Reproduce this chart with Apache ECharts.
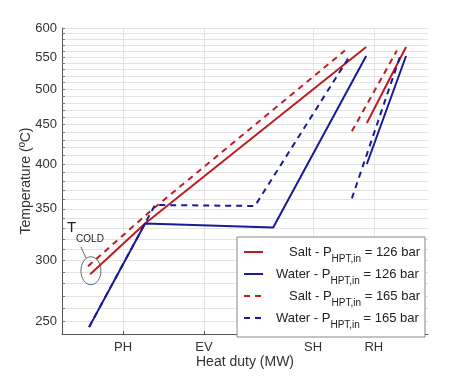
<!DOCTYPE html>
<html>
<head>
<meta charset="utf-8">
<script src="https://cdn.jsdelivr.net/npm/echarts@6/dist/echarts.min.js"></script>
<style>
html, body { margin: 0; padding: 0; background: #fff; }
#chart { width: 474px; height: 376px; }
</style>
</head>
<body>
<div id="chart"></div>
<script>
// heat duty in arbitrary units (0-100), temperatures in ºC
const saltLowX = [7.7, 22.7, 83.1];
const saltLowT = [288, 335, 567];
const saltLowRhX = [83.3, 94.0];
const saltLowRhT = [452, 567];

const waterLowX = [7.4, 22.7, 57.7, 83.1];
const waterLowT = [246, 335, 331, 552];
const waterLowRhX = [83.3, 94.0];
const waterLowRhT = [400, 552];

const saltHighX = [7.1, 24.9, 77.3];
const saltHighT = [295, 350, 561];
const saltHighRhX = [79.2, 91.5];
const saltHighRhT = [441, 561];

const waterHighX = [7.4, 25.4, 52.7, 78.4];
const waterHighT = [246, 354, 353, 550];
const waterHighRhX = [79.2, 92.3];
const waterHighRhT = [361, 550];

// axis ticks
const dutyTicks = [16.7, 38.8, 68.6, 85.2];
const dutyLabels = ['PH', 'EV', 'SH', 'RH'];
const tempLabels = [250, 300, 350, 400, 450, 500, 550, 600];
const tempGrid = [250, 260, 270, 280, 290, 300, 310, 320, 330, 340, 350, 360, 370, 380, 390,
  400, 410, 420, 430, 440, 450, 460, 470, 480, 490, 500, 510, 520, 530, 540, 550, 560, 570, 580, 590, 600];

const fluids = ['Salt', 'Water', 'Salt', 'Water'];
const pressures = [126, 126, 165, 165];

const red = '#c01c20';
const blue = '#1a1a96';
const font = 'Liberation Sans, Arial, sans-serif';

// join main part and RH part with a gap
function makeLine(x, t, rhX, rhT) {
  const pts = x.map((v, i) => [v, Math.log10(t[i])]);
  pts.push(['-', '-']);
  rhX.forEach((v, i) => pts.push([v, Math.log10(rhT[i])]));
  return pts;
}

const names = fluids.map((f, i) => f + ' - P HPT,in = ' + pressures[i] + ' bar');

function lineSeries(i, data, color, dashed) {
  return {
    name: names[i],
    type: 'line',
    data: data,
    symbol: 'none',
    connectNulls: false,
    lineStyle: { color: color, width: 2, type: dashed ? [6, 5] : 'solid' },
    itemStyle: { color: color },
    silent: true
  };
}

const chart = echarts.init(document.getElementById('chart'));
const option = {
  animation: false,
  textStyle: { fontFamily: font },
  grid: { left: 62, right: 46, top: 28, bottom: 42, outerBoundsMode: 'none' },
  legend: {
    orient: 'vertical',
    left: 237,
    top: 237,
    padding: [7, 5, 7, 6],
    itemWidth: 19,
    itemHeight: 18,
    itemGap: 2,
    backgroundColor: '#fff',
    borderColor: '#888',
    borderWidth: 1,
    borderRadius: 0,
    itemStyle: { opacity: 0 },
    data: names,
    formatter: function (name) {
      const i = names.indexOf(name);
      const first = fluids[i] === 'Salt' ? 'ns' : 'nw';
      return '{' + first + '|' + fluids[i] + ' - P}{s|HPT,in}{e| = ' + pressures[i] + ' bar}';
    },
    textStyle: {
      color: '#222',
      rich: {
        nw: { fontSize: 13, lineHeight: 16, verticalAlign: 'top', padding: [2, 0, 0, 8], fontFamily: font, color: '#222' },
        ns: { fontSize: 13, lineHeight: 16, verticalAlign: 'top', padding: [2, 0, 0, 21], fontFamily: font, color: '#222' },
        s: { fontSize: 10, lineHeight: 8, verticalAlign: 'top', padding: [10, 0, 0, 0], fontFamily: font, color: '#222' },
        e: { fontSize: 13, lineHeight: 16, verticalAlign: 'top', padding: [2, 0, 0, 0], fontFamily: font, color: '#222' }
      }
    }
  },
  xAxis: {
    type: 'value',
    min: 0,
    max: 100,
    name: 'Heat duty (MW)',
    nameLocation: 'middle',
    nameGap: 21,
    nameMoveOverlap: false,
    nameTextStyle: { fontSize: 14, color: '#333' },
    axisLine: { lineStyle: { color: '#555', width: 1 } },
    axisTick: { inside: true, length: 3, customValues: dutyTicks, lineStyle: { color: '#555' } },
    axisLabel: {
      customValues: dutyTicks,
      fontSize: 13,
      color: '#333',
      margin: 7,
      formatter: v => dutyLabels[dutyTicks.indexOf(v)]
    },
    splitLine: { show: true, lineStyle: { color: '#e4e4e4', width: 1 } }
  },
  yAxis: {
    type: 'value',
    min: Math.log10(241),
    max: Math.log10(600),
    name: 'Temperature (ºC)',
    nameLocation: 'middle',
    nameGap: 29,
    nameMoveOverlap: false,
    nameTextStyle: { fontSize: 14, color: '#333' },
    axisLine: { show: true, lineStyle: { color: '#555', width: 1 } },
    axisTick: { show: true, inside: true, length: 3, customValues: tempGrid.map(Math.log10), lineStyle: { color: '#777' } },
    axisLabel: {
      customValues: tempLabels.map(Math.log10),
      fontSize: 13,
      color: '#333',
      margin: 5,
      formatter: v => String(Math.round(Math.pow(10, v)))
    },
    splitLine: { show: true, lineStyle: { color: '#e4e4e4', width: 1 } }
  },
  series: [
    lineSeries(0, makeLine(saltLowX, saltLowT, saltLowRhX, saltLowRhT), red, false),
    lineSeries(1, makeLine(waterLowX, waterLowT, waterLowRhX, waterLowRhT), blue, false),
    lineSeries(2, makeLine(saltHighX, saltHighT, saltHighRhX, saltHighRhT), red, true),
    lineSeries(3, makeLine(waterHighX, waterHighT, waterHighRhX, waterHighRhT), blue, true)
  ]
};
chart.setOption(option);

// T_COLD annotation around the cold ends of the salt lines
const c = chart.convertToPixel({ gridIndex: 0 }, [7.9, Math.log10(291)]);
chart.setOption({
  graphic: [
    {
      type: 'ellipse',
      shape: { cx: c[0], cy: c[1], rx: 10, ry: 14 },
      style: { fill: 'none', stroke: '#666', lineWidth: 1 },
      silent: true
    },
    {
      type: 'line',
      shape: { x1: c[0] - 5, y1: c[1] - 13, x2: c[0] - 10, y2: c[1] - 24 },
      style: { stroke: '#666', lineWidth: 1 },
      silent: true
    },
    {
      type: 'text',
      x: c[0] - 24,
      y: c[1] - 50,
      style: {
        text: '{t|T}{s|COLD}',
        rich: {
          t: { fontSize: 15, fontFamily: font, fill: '#222', lineHeight: 18, verticalAlign: 'top' },
          s: { fontSize: 10, fontFamily: font, fill: '#222', lineHeight: 8, verticalAlign: 'top', padding: [13, 0, 0, 0] }
        }
      },
      silent: true
    }
  ]
});
</script>
</body>
</html>
